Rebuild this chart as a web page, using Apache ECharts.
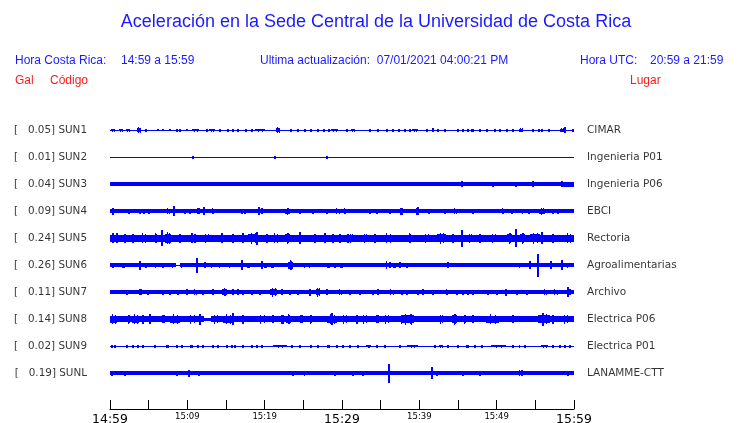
<!DOCTYPE html>
<html><head><meta charset="utf-8">
<script src="https://cdn.jsdelivr.net/npm/echarts@6/dist/echarts.min.js"></script>
<style>html,body{margin:0;padding:0;background:#fff}#c{width:740px;height:423px}</style>
</head><body><div id="c"></div>
<script>
// ---- data ----
const codes = ['SUN1','SUN2','SUN3','SUN4','SUN5','SUN6','SUN7','SUN8','SUN9','SUNL'];
const peaks = ['0.05','0.01','0.04','0.09','0.24','0.26','0.11','0.14','0.02','0.19'];
const places = ['CIMAR','Ingenieria P01','Ingenieria P06','EBCI','Rectoria','Agroalimentarias','Archivo','Electrica P06','Electrica P01','LANAMME-CTT'];
const timeLabels = ['14:59','','15:09','','15:19','','15:29','','15:39','','15:49','','15:59'];
const bigLabels = ['14:59','15:29','15:59'];
// minutes since 14:59; amplitude in 1/100 of trace spacing; base: [start,end,amp]; bursts: [minute,amp,duration]
const sun1Base = [[0,60,2]];
const sun1Bursts = [[0.39,6,0.4],[1.42,6,0.4],[2.33,6,0.4],[3.75,11,0.4],[4.65,5],[6.21,4],[6.85,4],[7.76,4],[8.66,5],[9.05,5],[9.96,4],[11.0,6,0.9],[12.54,5,0.3],[13.19,6,0.65],[14.22,5,0.3],[15.26,6,0.3],[15.9,5],[16.55,6,0.3],[17.59,5],[18.36,5],[19.4,6,1.3],[21.72,11,0.4],[23.4,6,0.3],[24.3,5,0.3],[25.2,5,0.3],[25.99,5],[26.89,6,0.3],[27.67,5],[28.32,5],[29.09,6,0.9],[30.64,6,0.3],[31.4,6,0.5],[33.62,6,0.3],[34.66,6,0.3],[35.82,5],[36.6,5],[37.37,5],[38.15,5],[38.8,5],[39.44,6,0.9],[40.99,5],[41.77,8],[42.41,5],[43.32,5],[45.0,5],[45.64,5],[46.29,5],[46.9,6,0.4],[47.84,5],[48.75,5],[49.78,5],[50.43,5],[51.33,5],[52.11,5],[53.2,8,0.5],[54.7,5],[55.47,5],[55.86,5],[56.76,6,0.3],[58.4,8,0.5],[58.83,11],[59.87,5]];
const sun2Base = [[0,60,2]];
const sun2Bursts = [[10.73,6],[21.34,5],[28.06,5]];
const sun3Base = [[0,58.5,7.5],[58.5,60,9]];
const sun3Bursts = [[45.52,12],[49.52,10],[52.5,10],[54.7,12],[58.45,12]];
const sun4Base = [[0,60,7.5]];
const sun4Bursts = [[0.39,13,0.3],[2.5,10,0.3],[3.88,9],[4.4,9],[5.04,9],[7.5,11,0.65],[8.28,18],[9.7,9],[10.34,10,0.3],[11.5,11,0.4],[12.15,15,0.3],[13.2,11,0.65],[17.07,10],[17.46,10],[19.3,15,0.3],[19.65,11],[22.89,13,0.65],[24.57,9],[26.25,9],[28.06,9],[29.4,11,0.9],[30.3,11,0.65],[33.62,10],[34.53,9],[36.21,9],[37.7,13,0.4],[39.7,13],[39.83,15],[41.25,9],[43.32,10],[44.6,11,0.5],[46.94,9],[50.75,11,0.65],[51.98,10],[53.4,10,0.8],[54.18,10],[55.86,13,0.8],[57.28,10],[57.93,9]];
const sun5Base = [[0,60,13]];
const sun5Bursts = [[0.39,18],[0.91,18],[1.94,17],[2.97,16],[4.3,18,0.9],[5.9,18,0.65],[6.72,30],[7.5,22,0.9],[9.05,17],[10.6,18],[10.99,17],[12.5,17,0.9],[14.48,18],[15.9,16],[17.2,18],[18.5,20,1.2],[19.0,24],[20.3,17],[21.4,18,0.9],[23.0,20,0.65],[24.57,22],[26.51,17],[27.8,18],[28.83,16],[29.74,17],[30.77,17],[31.2,17,0.8],[33.0,16,0.5],[34.27,16],[36.0,18,1.3],[38.7,18,0.65],[40.9,17,0.9],[42.9,20,1.2],[44.35,17],[45.52,31],[46.5,17,0.5],[47.84,16],[49.6,17,0.9],[51.7,20,0.65],[52.5,33],[53.3,20,0.65],[54.9,20,1.3],[55.86,22],[57.28,16],[59.3,18,0.9]];
const sun6Base = [[0,8.5,7.5],[8.5,9.05,2],[9.05,60,7.5]];
const sun6Bursts = [[0.39,9],[1.8,9,0.4],[3.88,17],[4.65,10],[5.9,10],[6.85,10],[8.1,10,0.65],[9.2,10],[11.25,27],[12.3,11,0.3],[13.2,10,0.5],[14.2,10,0.5],[15.5,10,0.5],[17.07,18],[17.9,10,0.4],[19.65,15],[20.1,10,0.4],[21.0,10,0.3],[23.3,18,0.6],[25.2,10,0.5],[25.86,10,0.5],[28.2,10,0.4],[29.1,10],[29.9,10,0.4],[30.1,10],[35.8,15],[36.2,11,0.3],[36.8,10,0.4],[37.5,11],[38.41,10],[43.71,11],[53.0,10],[54.3,15,0.3],[55.34,42],[57.02,15],[58.45,18],[59.2,10]];
const sun7Base = [[0,60,7.5]];
const sun7Bursts = [[2.2,10],[4.0,11,0.4],[4.91,10],[6.85,9],[7.76,9],[8.79,10],[9.96,11],[11.0,11,0.5],[12.03,10],[13.32,11],[14.8,15,0.65],[15.9,11],[16.55,11],[17.2,10],[18.36,10],[19.4,10],[21.1,17,0.9],[22.24,11],[23.27,10],[24.3,10],[25.86,13],[26.9,17,0.4],[28.06,11],[29.7,11,1.0],[31.03,10],[32.33,10],[34.0,10],[34.66,11],[36.4,11,0.9],[37.76,10],[38.41,10],[39.83,10],[40.47,11],[41.77,10],[43.45,11,0.65],[44.87,10],[45.64,10],[46.29,10],[46.94,10],[48.88,10],[50.04,10],[51.2,13,0.3],[52.63,10],[53.92,10],[56.2,11,0.8],[57.6,11,0.9],[59.22,18],[59.48,11]];
const sun8Base = [[0,12.2,11],[12.2,13.1,6],[13.1,60,11]];
const sun8Bursts = [[0.5,18,0.9],[2.4,16,0.65],[3.3,18,0.9],[4.27,16],[5.17,18],[6.9,14,0.4],[8.4,18,1.3],[10.6,17,1.7],[11.64,20],[13.6,16,0.9],[15.2,18,1.3],[15.9,22],[17.2,16],[19.6,17,1.3],[21.08,14],[22.3,17,0.4],[23.1,18,0.65],[24.75,14,0.4],[25.9,17,0.65],[28.7,18,1.3],[28.7,22],[30.3,16,0.9],[31.94,16],[32.9,17,0.9],[34.6,14,0.4],[35.7,16,0.9],[37.7,17,0.65],[38.5,20,1.7],[39.0,20],[42.8,16,0.65],[44.5,20,0.65],[45.9,17,0.65],[46.94,14],[49.5,18,1.7],[52.11,14],[56.1,20,1.5],[56.0,24],[57.28,17],[58.9,16,1.3]];
const sun9Base = [[0,60,2]];
const sun9Bursts = [[0.26,5],[0.65,5],[2.2,6,0.3],[2.97,5],[3.62,5],[4.27,5],[5.82,5],[7.45,5,0.3],[8.66,5],[9.31,5],[10.5,6,0.4],[11.38,5],[12.03,5],[13.32,5],[13.96,5],[15.13,5],[15.78,5],[16.16,5],[17.2,5],[18.36,5],[19.0,5],[19.65,5],[22.0,5,1.8],[23.53,6],[24.57,5],[25.99,5],[26.89,5],[28.2,5,0.4],[29.35,5],[30.13,5],[31.03,5],[32.07,5],[33.4,5,0.65],[34.53,5],[35.56,5],[37.5,5],[39.1,5,1.4],[42.03,5],[42.8,5,0.4],[43.71,5],[45.0,5],[46.2,5,0.4],[47.2,5],[48.1,5],[50.2,5,1.9],[52.11,5],[53.0,5],[53.66,5],[56.2,5,0.9],[57.28,5],[58.19,5],[58.83,5],[59.48,5]];
const sunLBase = [[0,60,7.5]];
const sunLBursts = [[0.26,10],[1.94,10],[8.66,10],[10.2,13,0.3],[11.5,10],[23.66,9],[25.2,9],[29.09,9],[31.42,9],[32.71,9],[36.08,35],[41.64,22],[42.28,10],[45.64,9],[47.84,9],[53.0,11],[53.27,11],[59.22,9]];

// ---- build ----
const traces = [
  [sun1Base, sun1Bursts],[sun2Base, sun2Bursts],[sun3Base, sun3Bursts],[sun4Base, sun4Bursts],[sun5Base, sun5Bursts],
  [sun6Base, sun6Bursts],[sun7Base, sun7Bursts],[sun8Base, sun8Bursts],[sun9Base, sun9Bursts],[sunLBase, sunLBursts]
];
const BLUE = '#0000ff';
function traceData(row, base, bursts){
  const out = [];
  base.forEach(b => out.push([b[0], b[1], b[2], row, 0]));
  bursts.forEach(b => { const d = b[2] || 0.15; out.push([Math.max(0, b[0]-d/2), Math.min(60, b[0]+d/2), b[1], row, 1]); });
  return out;
}
function rect(x, yc, w, h){ return {type:'rect', shape:{x:x, y:Math.round(yc - h/2), width:w, height:h}, style:{fill:BLUE}}; }
function renderTrace(params, api){
  const t0 = api.value(0), t1 = api.value(1), a = api.value(2)/100, r = api.value(3), kind = api.value(4);
  const c0 = api.coord([t0, r]);
  const c1 = api.coord([t1, r]);
  const half = api.size([0, a])[1];
  const h = Math.max(1, Math.round(2*half));
  const yc = c0[1];
  const x0 = Math.round(c0[0]);
  let x1 = Math.round(c1[0]);
  if (x1 <= x0) x1 = x0 + 1;
  const w = x1 - x0;
  if (kind === 0 || w <= 3) return rect(x0, yc, w, h);
  const body = Math.max(1, Math.round(h*0.72));
  const children = [rect(x0, yc, w, body)];
  const step = w / 3;
  children.push(rect(Math.round(x0 + step), yc, 1, h));
  children.push(rect(Math.round(x0 + 2*step), yc, 1, Math.max(1, Math.round(h*0.88))));
  return {type:'group', children:children};
}
const series = traces.map((t, i) => ({
  type:'custom', renderItem: renderTrace, data: traceData(i, t[0], t[1]),
  encode:{x:[0,1], y:3}, silent:true, animation:false
}));
series.push({
  type:'scatter', symbolSize:0, silent:true, animation:false,
  data: codes.map((c, i) => [0, i]),
  label:{show:true, position:'left', distance:23, color:'#000', fontFamily:'DejaVu Sans', fontSize:10.4,
    formatter: p => '[   ' + peaks[p.dataIndex] + '] ' + codes[p.dataIndex]}
});
series.push({
  type:'scatter', symbolSize:0, silent:true, animation:false,
  data: places.map((c, i) => [60, i]),
  label:{show:true, position:'right', distance:13, color:'#000', fontFamily:'DejaVu Sans', fontSize:10.5,
    formatter: p => places[p.dataIndex]}
});
const hdr = {fontFamily:'Liberation Sans', fontSize:12, fill:'#1a1aff', textVerticalAlign:'middle'};
function txt(x, y, text, extra){ return {type:'text', x:x, y:y, silent:true, style:Object.assign({}, hdr, {text:text}, extra||{})}; }
const option = {
  backgroundColor:'#fff',
  animation:false,
  grid:{left:110, right:166, top:116.5, bottom:14, containLabel:false, outerBoundsMode:'none'},
  xAxis:{type:'value', min:0, max:60, interval:5, position:'bottom',
    axisLine:{show:true, onZero:false, lineStyle:{color:'#000', width:1}},
    axisTick:{show:true, inside:true, length:9, lineStyle:{color:'#000'}},
    splitLine:{show:false},
    axisLabel:{show:true, margin:4, color:'#000', fontFamily:'DejaVu Sans',
      formatter: v => { const s = timeLabels[Math.round(v/5)] || ''; if (!s) return ''; return bigLabels.indexOf(s) >= 0 ? '{b|' + s + '}' : '{s|' + s + '}'; },
      rich:{b:{fontSize:12.5, fontFamily:'DejaVu Sans', color:'#000', lineHeight:13}, s:{fontSize:8.5, fontFamily:'DejaVu Sans', color:'#000', lineHeight:8}}
    }},
  yAxis:{type:'value', min:-0.5, max:10.3333, inverse:true, show:false},
  series: series,
  graphic:[
    txt(376, 22, 'Aceleración en la Sede Central de la Universidad de Costa Rica', {fontSize:18, textAlign:'center'}),
    txt(15, 61, 'Hora Costa Rica:'),
    txt(121, 61, '14:59 a 15:59'),
    txt(260, 61, 'Ultima actualización:  07/01/2021 04:00:21 PM'),
    txt(580, 61, 'Hora UTC:'),
    txt(650, 61, '20:59 a 21:59'),
    txt(15, 81, 'Gal', {fill:'#ff1a1a'}),
    txt(50, 81, 'Código', {fill:'#ff1a1a'}),
    txt(630, 81, 'Lugar', {fill:'#ff1a1a'})
  ]
};
const chart = echarts.init(document.getElementById('c'), null, {renderer:'canvas'});
chart.setOption(option);
</script>
</body></html>
